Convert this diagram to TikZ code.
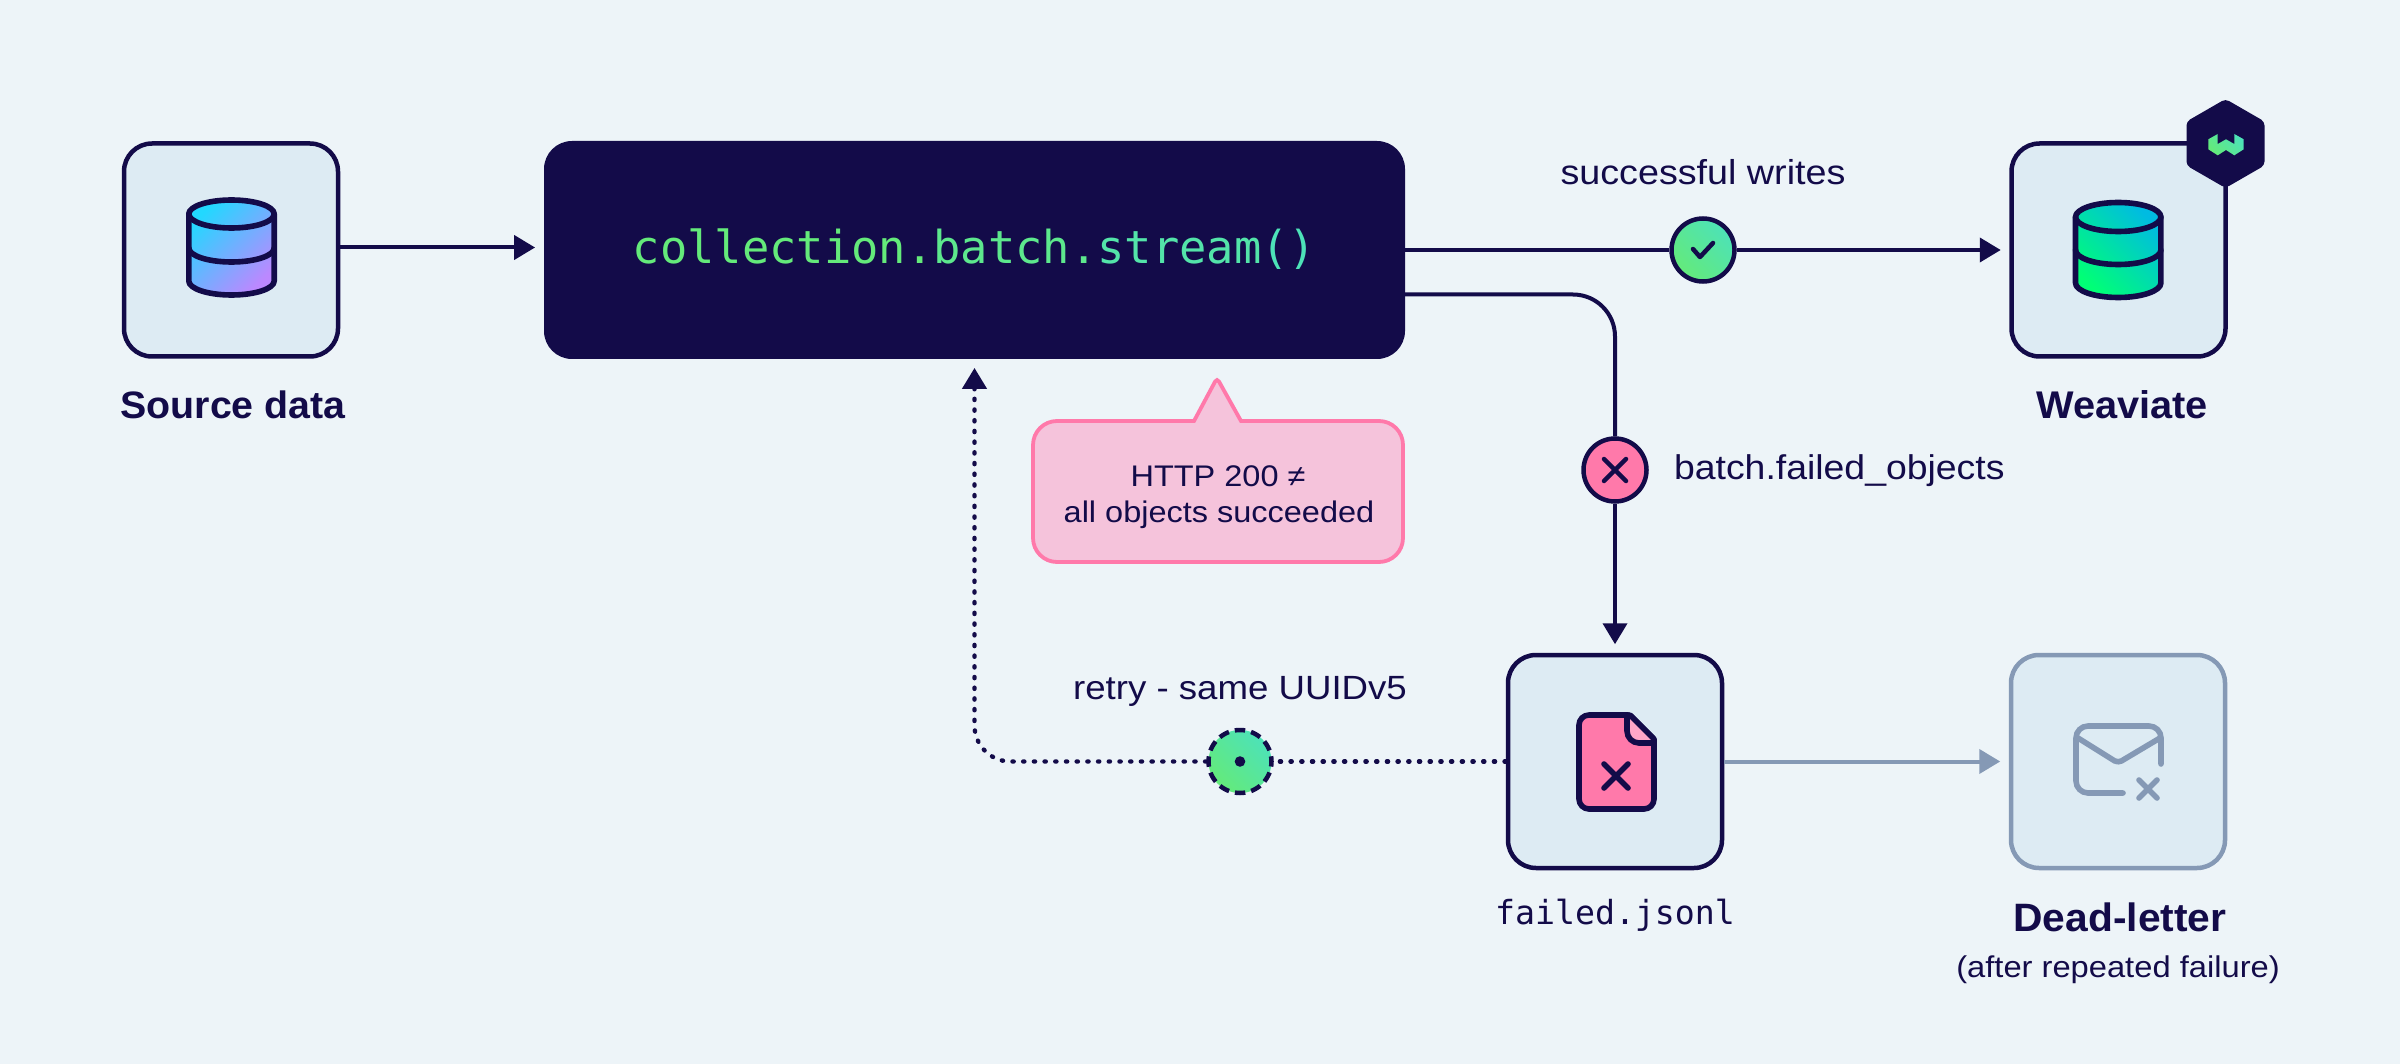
\documentclass[tikz,border=0pt]{standalone}
\usepackage{fontspec}
\setmainfont[FakeStretch=1.09]{Liberation Sans}
\setmonofont{DejaVu Sans Mono}
\newfontfamily\boldcap[FakeStretch=1.03]{Liberation Sans}
\usetikzlibrary{arrows.meta}

\definecolor{navy}{HTML}{130B49}
\definecolor{pagebg}{HTML}{EDF4F8}
\definecolor{cardbg}{HTML}{DDEBF3}
\definecolor{greyblue}{HTML}{8599B5}
\definecolor{hotpink}{HTML}{FF79AA}
\definecolor{softpink}{HTML}{F5C3DB}
\definecolor{foldpink}{HTML}{FFA6C8}
\definecolor{mint}{HTML}{64EA7A}
\definecolor{aqua}{HTML}{4DE2B8}
\definecolor{skyA}{HTML}{22D8FF}
\definecolor{skyB}{HTML}{BC88FF}
\definecolor{greenA}{HTML}{00BBE2}
\definecolor{greenB}{HTML}{00FF76}

\tikzset{
  cardbox/.style={draw=navy, fill=cardbg, line width=2.25pt, rounded corners=14pt, minimum width=107pt, minimum height=106.5pt, inner sep=0pt},
  statusdot/.style={circle, draw=navy, line width=2.25pt, minimum size=31.5pt, inner sep=0pt},
  flow/.style={draw=navy, line width=2pt, shorten >=4.25pt, -{Triangle[length=10.5pt,width=12pt]}},
  wire/.style={draw=navy, line width=2pt},
  dotwire/.style={draw=navy, line width=2.2pt, line cap=round, dash pattern=on 0.6pt off 4.75pt},
  iconline/.style={draw=navy, line width=2.8pt, line cap=round, line join=round},
  capbold/.style={anchor=base, text=navy, font=\fontsize{19.3}{23}\boldcap\bfseries},
  capreg/.style={anchor=base, text=navy, font=\fontsize{17.3}{20}\selectfont},
  capmono/.style={anchor=base, text=navy, font=\fontsize{16.6}{20}\ttfamily},
}

\begin{document}
\begin{tikzpicture}[x=0.5pt,y=0.5pt,yscale=-1,xscale=1]
\useasboundingbox (0,0) rectangle (2400,1064);
\fill [pagebg] (0,0) rectangle (2400,1064);

%Main boxes
\node (source) [cardbox] at (231,250) {};
\node (weaviate) [cardbox] at (2118.5,250) {};
\node (failed) [cardbox] at (1615,761.5) {};
\node (deadletter) [cardbox, draw=greyblue] at (2118,761.5) {};
\node (batchbox) [fill=navy, rounded corners=14pt, minimum width=430.5pt, minimum height=109pt, inner sep=0pt, text height=14.5pt, text depth=1pt, font=\fontsize{22.7}{27}\ttfamily] at (974.5,250)
  {\textcolor{mint}{collection.}\textcolor{mint!70!aqua}{batch.}\textcolor{mint!25!aqua}{stream}\textcolor{aqua}{()}};

%Status dots
\node (okdot) [statusdot, top color=aqua, bottom color=mint, shading angle=-45] at (1703,250) {};
\node (faildot) [statusdot, fill=hotpink] at (1615,470) {};
\node (retrydot) [statusdot, top color=aqua, bottom color=mint, shading angle=-45, dash pattern=on 5.2pt off 3.05pt, dash phase=2.6pt] at (1240,761.5) {};

%Free ends
\coordinate (failout) at (1405,294.5);

%Connectors
\draw [flow] ([yshift=-1.25pt]source.east) -- ([yshift=-1.25pt]batchbox.west);
\draw [wire] (batchbox.east) -- (okdot);
\draw [flow] (okdot) -- (weaviate);
\draw [wire, rounded corners=21pt] (failout) -| (faildot);
\draw [flow] (faildot) -- (failed);
\draw [flow, draw=greyblue] (failed) -- (deadletter);
\draw [dotwire] (failed) -- (retrydot);
\draw [flow, dotwire, rounded corners=18pt] (retrydot) -| (batchbox);

%Callout
\draw [draw=hotpink, fill=softpink, line width=1.9pt, rounded corners=12pt] (1033,562) -- (1033,421) [sharp corners] -- (1194,421) [rounded corners=2pt] -- (1217,378) [sharp corners] -- (1241,421) [rounded corners=12pt] -- (1403,421) -- (1403,562) -- cycle;
\node (calltop) [capreg, font=\fontsize{14.9}{18}\selectfont] at (1218,486) {HTTP 200 ≠};
\node (callbot) [capreg, font=\fontsize{14.9}{18}\selectfont] at (1219,522) {all objects succeeded};

%Source cylinder
\path [iconline, top color=skyA, bottom color=skyB, shading angle=45] (188.8,214) -- (188.8,281) arc [start angle=180, end angle=0, x radius=42.7, y radius=14] -- (274.2,214) arc [start angle=0, end angle=-180, x radius=42.7, y radius=14] -- cycle;
\draw [iconline] (188.8,214) arc [start angle=180, end angle=0, x radius=42.7, y radius=14];
\draw [iconline] (188.8,248) arc [start angle=180, end angle=0, x radius=42.7, y radius=14];

%Weaviate cylinder
\path [iconline, top color=greenA, bottom color=greenB, shading angle=-45] (2075.5,217) -- (2075.5,283) arc [start angle=180, end angle=0, x radius=42.7, y radius=14.5] -- (2160.9,217) arc [start angle=0, end angle=-180, x radius=42.7, y radius=14.5] -- cycle;
\draw [iconline] (2075.5,217) arc [start angle=180, end angle=0, x radius=42.7, y radius=14.5];
\draw [iconline] (2075.5,250) arc [start angle=180, end angle=0, x radius=42.7, y radius=14.5];

%Badge
\fill [navy, rounded corners=2pt] (2225.5,99) -- (2264.5,121.5) -- (2264.5,165.5) -- (2225.5,188) -- (2186.5,165.5) -- (2186.5,121.5) -- cycle;
\shade [top color=aqua, bottom color=mint, shading angle=-45] (2208.3,139.3) -- (2217.7,134) -- (2217.7,144) -- (2226,139.3) -- (2234.3,144) -- (2234.3,134) -- (2243.7,139.3) -- (2243.7,149.3) -- (2234.3,155.3) -- (2226,150) -- (2217.7,155.3) -- (2208.3,149.3) -- cycle;

%File icon
\draw [iconline, fill=hotpink, rounded corners=5pt] (1579,760) -- (1579,715) [rounded corners=1pt] -- (1630,715) -- (1654,739) [rounded corners=5pt] -- (1654,809) -- (1579,809) -- cycle;
\draw [iconline, fill=foldpink, rounded corners=6pt] (1627,716) -- (1627,743) [sharp corners] -- (1654,743) -- (1654,739) -- (1630,715) -- cycle;
\draw [iconline] (1604,764) -- (1628,788) (1628,764) -- (1604,788);

%Envelope icon
\draw [iconline, draw=greyblue, rounded corners=6pt] (2161,764) -- (2161,726) -- (2076,726) -- (2076,793) -- (2123,793);
\draw [iconline, draw=greyblue, rounded corners=2pt] (2078,738) -- (2118,763) -- (2160,738);
\draw [iconline, draw=greyblue] (2139,780) -- (2157,798) (2157,780) -- (2139,798);

%Dot marks
\draw [iconline, line width=2.25pt] (1693,249) -- (1700,257) -- (1713,243);
\draw [iconline, line width=2.25pt] (1604,459) -- (1626,481) (1626,459) -- (1604,481);
\fill [navy] (retrydot.center) circle [radius=5.3];

%Labels
\node (srclabel) [capbold, font=\fontsize{19.1}{23}\boldcap\bfseries] at (233,418) {Source data};
\node (wvlabel) [capbold] at (2122,418) {Weaviate};
\node (dllabel) [capbold, font=\fontsize{19.8}{23}\boldcap\bfseries] at (2120,931) {Dead-letter};
\node (dlnote) [capreg, font=\fontsize{15}{18}\selectfont] at (2118,977) {(after repeated failure)};
\node (fllabel) [capmono] at (1615,924) {failed.jsonl};
\node (oklabel) [capreg] at (1703,185) {successful writes};
\node (faillabel) [capreg, anchor=base west, font=\fontsize{17.15}{20}\selectfont] at (1667,480) {batch.failed\_objects};
\node (retrylabel) [capreg, font=\fontsize{16.8}{20}\selectfont] at (1240,699) {retry - same UUIDv5};
\end{tikzpicture}
\end{document}
